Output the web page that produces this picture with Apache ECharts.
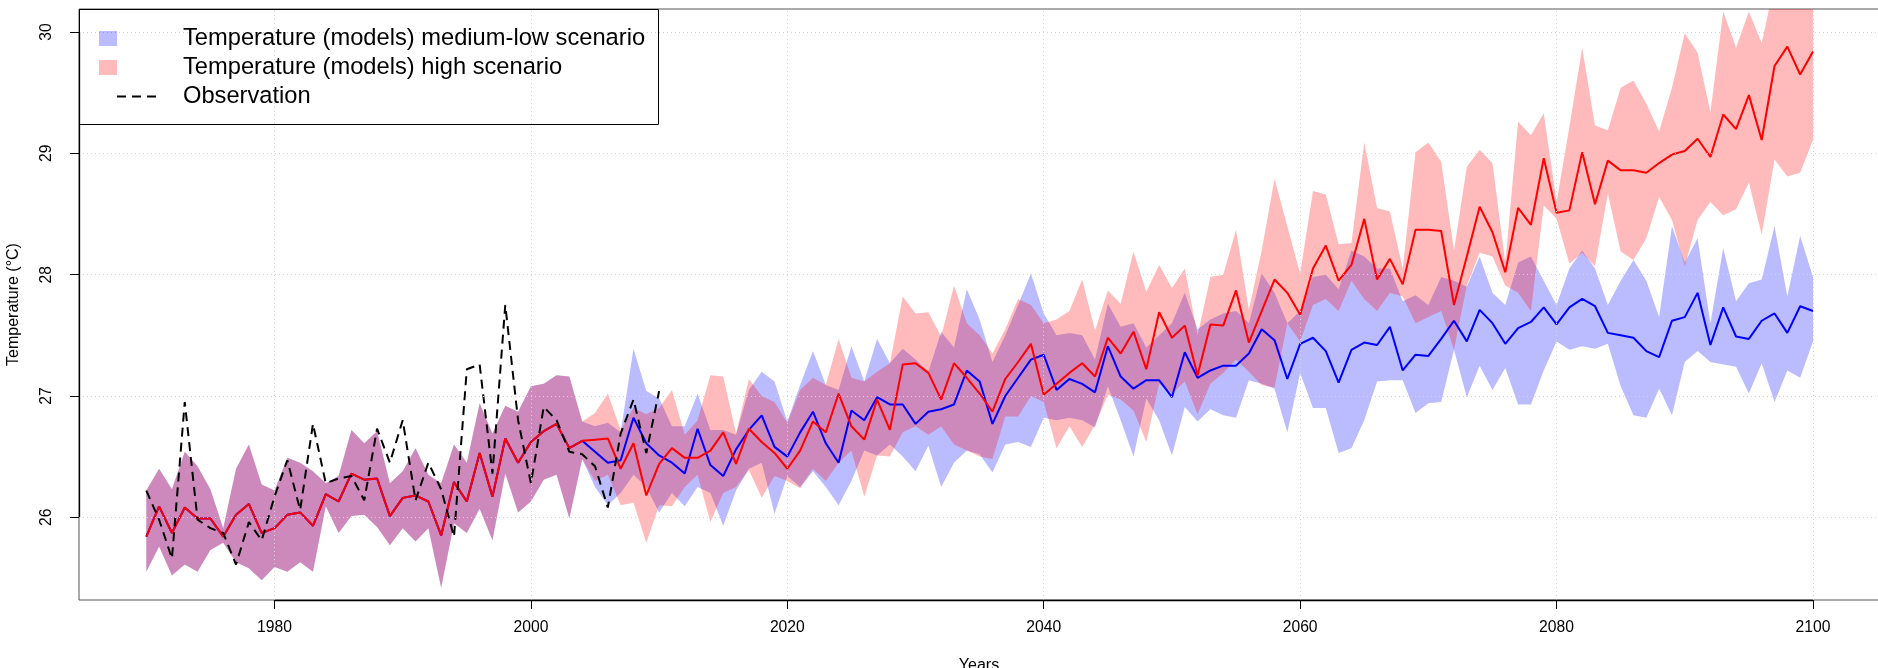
<!DOCTYPE html>
<html><head><meta charset="utf-8">
<script src="https://cdn.jsdelivr.net/npm/echarts@6/dist/echarts.min.js"></script>
<style>html,body{margin:0;padding:0;background:#fff}#c{width:1878px;height:668px}</style>
</head><body><div id="c"></div>
<script>
// ---------- data ----------
const firstYear = 1970;
const lastYear = 2100;
const xTicks = [1980, 2000, 2020, 2040, 2060, 2080, 2100];
const yTicks = [26, 27, 28, 29, 30];

// historical model ensemble (1970-2004), common to both scenarios
const histMean = [25.84,26.09,25.87,26.08,25.99,25.99,25.84,26.02,26.11,25.87,
  25.91,26.02,26.04,25.93,26.19,26.13,26.36,26.31,26.32,26.01,
  26.16,26.18,26.13,25.85,26.29,26.13,26.53,26.17,26.65,26.45,
  26.62,26.71,26.77,26.57,26.63];
const histLower = [25.55,25.76,25.52,25.61,25.55,25.73,25.79,25.63,25.58,25.48,
  25.59,25.55,25.63,25.55,26.09,25.87,26.01,26.02,25.92,25.77,
  25.91,25.80,25.91,25.42,25.95,25.87,26.07,25.81,26.36,26.04,
  26.13,26.31,26.35,25.99,26.48];
const histUpper = [26.22,26.40,26.23,26.54,26.42,26.23,25.91,26.40,26.60,26.27,
  26.22,26.49,26.45,26.38,26.28,26.34,26.72,26.61,26.71,26.28,
  26.38,26.57,26.35,26.28,26.60,26.45,26.94,26.69,26.92,26.87,
  27.08,27.10,27.17,27.16,26.79];

// medium-low scenario (2005-2100)
const lowMean = [26.54,26.45,26.47,26.82,26.61,26.51,26.45,26.36,26.73,26.43,
  26.34,26.56,26.72,26.84,26.58,26.50,26.70,26.87,26.61,26.45,
  26.88,26.80,26.99,26.93,26.93,26.77,26.87,26.89,26.93,27.21,
  27.12,26.77,27.00,27.15,27.30,27.34,27.05,27.14,27.10,27.03,
  27.41,27.16,27.06,27.13,27.13,26.99,27.36,27.15,27.21,27.25,
  27.25,27.35,27.55,27.46,27.14,27.43,27.48,27.37,27.11,27.38,
  27.44,27.42,27.57,27.21,27.34,27.33,27.47,27.62,27.45,27.71,
  27.60,27.43,27.56,27.61,27.73,27.59,27.73,27.80,27.74,27.52,
  27.50,27.48,27.37,27.32,27.62,27.65,27.85,27.42,27.73,27.49,
  27.47,27.62,27.68,27.52,27.74,27.70];
const lowLower = [26.25,26.10,26.20,26.35,26.25,26.04,26.20,26.09,26.25,26.20,
  25.93,26.22,26.40,26.45,26.03,26.34,26.25,26.38,26.25,26.10,
  26.30,26.55,26.51,26.60,26.50,26.38,26.59,26.25,26.45,26.55,
  26.52,26.37,26.60,26.62,26.58,26.82,26.80,26.82,26.80,26.74,
  27.08,26.80,26.50,26.98,26.80,26.51,26.91,26.79,26.89,26.84,
  26.82,27.13,27.10,27.06,26.70,27.19,26.90,26.90,26.53,26.57,
  26.80,27.12,27.13,27.13,26.86,26.94,26.95,27.38,26.99,27.25,
  27.05,27.23,26.93,26.93,27.21,27.45,27.38,27.41,27.39,27.43,
  27.08,26.84,26.82,27.06,26.84,27.28,27.37,27.28,27.26,27.24,
  27.02,27.27,26.95,27.21,27.15,27.45];
const lowUpper = [26.75,26.78,26.70,27.39,27.04,26.98,26.75,26.75,27.02,26.72,
  26.72,26.68,27.05,27.20,27.12,26.79,27.09,27.37,27.09,27.05,
  27.41,27.12,27.47,27.27,27.39,27.30,27.20,27.53,27.40,27.88,
  27.63,27.28,27.50,27.75,28.01,27.68,27.50,27.52,27.50,27.30,
  27.76,27.57,27.60,27.40,27.50,27.60,27.85,27.55,27.63,27.68,
  27.70,27.60,28.01,27.85,27.60,27.70,27.98,28.00,27.88,28.20,
  28.15,28.05,28.05,27.78,27.83,27.75,27.98,27.95,27.90,28.15,
  27.85,27.75,28.10,28.15,27.95,27.75,28.05,28.20,28.05,27.75,
  27.95,28.12,27.95,27.65,28.40,28.10,28.30,27.60,28.22,27.78,
  27.93,27.96,28.40,27.82,28.32,27.98];

// high scenario (2005-2100)
const highMean = [26.64,26.65,26.40,26.61,26.18,26.44,26.57,26.49,26.49,26.55,
  26.70,26.44,26.73,26.62,26.53,26.40,26.55,26.79,26.70,27.02,
  26.75,26.64,26.97,26.72,27.26,27.27,27.19,26.97,27.27,27.15,
  27.02,26.87,27.14,27.28,27.43,27.01,27.10,27.19,27.27,27.16,
  27.48,27.35,27.53,27.22,27.69,27.48,27.58,27.17,27.59,27.58,
  27.87,27.44,27.70,27.96,27.85,27.67,28.05,28.24,27.95,28.08,
  28.46,27.96,28.13,27.92,28.37,28.37,28.36,27.75,28.15,28.56,
  28.35,28.02,28.55,28.41,28.96,28.51,28.53,29.01,28.58,28.94,
  28.86,28.86,28.84,28.92,28.99,29.02,29.12,28.97,29.32,29.20,
  29.48,29.11,29.72,29.88,29.65,29.84];
const highLower = [26.30,26.35,26.10,26.12,25.79,26.10,26.09,26.25,26.35,25.96,
  26.20,26.25,26.39,26.16,26.34,26.30,26.24,26.40,26.30,26.45,
  26.55,26.17,26.51,26.50,26.70,26.75,26.68,26.75,26.60,26.55,
  26.50,26.48,26.83,26.83,27.00,26.95,26.57,26.75,26.58,26.76,
  27.01,26.97,26.88,26.62,27.10,27.02,27.12,26.85,27.10,27.19,
  27.30,27.20,27.09,27.07,27.60,27.45,27.75,27.80,27.70,27.95,
  27.80,27.70,27.85,27.82,27.60,27.65,27.70,27.38,27.91,28.18,
  28.15,27.91,27.85,27.70,28.57,28.46,28.09,28.18,28.07,28.67,
  28.19,28.12,28.30,28.64,28.45,28.07,28.45,28.60,28.49,28.54,
  28.76,28.33,28.95,28.81,28.84,29.11];
const highUpper = [26.86,27.02,26.72,26.90,26.85,26.90,27.05,26.68,26.80,27.17,
  27.16,26.69,27.14,27.00,26.95,26.78,27.05,27.15,27.09,27.47,
  27.15,27.12,27.20,27.27,27.82,27.68,27.69,27.49,27.91,27.60,
  27.50,27.35,27.55,27.80,27.75,27.60,27.63,27.70,27.96,27.54,
  27.87,27.76,28.19,27.86,28.08,27.89,28.05,27.50,27.98,28.00,
  28.37,27.71,28.20,28.79,28.40,28.01,28.69,28.66,28.25,28.26,
  29.09,28.55,28.52,28.05,29.01,29.09,28.93,28.20,28.89,29.03,
  28.92,28.10,29.26,29.15,29.33,28.60,29.22,29.87,29.23,29.19,
  29.54,29.60,29.41,29.18,29.54,29.99,29.83,29.34,30.17,29.87,
  30.17,29.91,30.40,30.50,30.40,30.50];

// observations (1970-2010)
const observation = [26.22,25.98,25.66,26.95,25.98,25.91,25.87,25.61,25.96,25.81,
  26.17,26.47,26.06,26.77,26.28,26.32,26.34,26.14,26.73,26.45,
  26.80,26.14,26.45,26.23,25.84,27.22,27.26,26.36,27.75,26.80,
  26.28,26.91,26.80,26.54,26.52,26.42,26.08,26.69,26.97,26.53,27.04];

// ---------- build ----------
const years = [];
for (let y = firstYear; y <= lastYear; y++) years.push(y);
const pair = (vals) => vals.map((v, i) => [years[i], v]);
const lowMeanAll = histMean.concat(lowMean);
const highMeanAll = histMean.concat(highMean);

const xMin = 1964.751, xMax = 2105.15;
const yMin = 25.318, yMax = 30.190;
const FONT = '"Liberation Sans", Arial, Helvetica, sans-serif';

function band(lower, upper, color) {
  const data = years.map((y, i) => [y, lower[i], upper[i]]);
  return {
    type: 'custom', silent: true, data,
    encode: { x: 0, y: [1, 2] },
    renderItem(params, api) {
      if (params.dataIndex !== 0) return null;
      const pts = [];
      for (let i = 0; i < data.length; i++) pts.push(api.coord([data[i][0], data[i][2]]));
      for (let i = data.length - 1; i >= 0; i--) pts.push(api.coord([data[i][0], data[i][1]]));
      const cs = params.coordSys;
      return {
        type: 'polygon', shape: { points: pts }, style: { fill: color, stroke: null },
        clipPath: { type: 'rect', shape: { x: cs.x, y: cs.y, width: cs.width, height: cs.height } }
      };
    }
  };
}

const gridStyle = { color: '#d3d3d3', type: [1, 3], width: 1 };
const markData = [];
xTicks.forEach(v => markData.push({ xAxis: v }));
yTicks.forEach(v => markData.push({ yAxis: v }));
markData.push([{ coord: [xTicks[0], yMin], lineStyle: { color: '#000', type: 'solid', width: 1.3 } },
               { coord: [xTicks[xTicks.length - 1], yMin] }]);
markData.push([{ coord: [xMin, yTicks[0]], lineStyle: { color: '#000', type: 'solid', width: 1.3 } },
               { coord: [xMin, yTicks[yTicks.length - 1]] }]);

const chart = echarts.init(document.getElementById('c'), null, { renderer: 'canvas' });
chart.setOption({
  animation: false,
  backgroundColor: '#fff',
  textStyle: { fontFamily: FONT },
  grid: { left: 79, top: 9, right: -1, bottom: 68, show: true, borderColor: '#555', borderWidth: 1,
          backgroundColor: 'transparent', containLabel: false, outerBoundsMode: 'none' },
  xAxis: {
    type: 'value', min: xMin, max: xMax,
    name: 'Years', nameLocation: 'middle', nameGap: 58,
    nameTextStyle: { fontSize: 16, color: '#000', fontFamily: FONT },
    axisLine: { show: false },
    axisTick: { show: true, customValues: xTicks, length: 9, lineStyle: { color: '#000', width: 1 } },
    axisLabel: { customValues: xTicks, margin: 20, fontSize: 15.7, color: '#000', fontFamily: FONT,
                 formatter: v => String(v) },
    splitLine: { show: false }
  },
  yAxis: {
    type: 'value', min: yMin, max: yMax,
    name: 'Temperature (°C)', nameLocation: 'middle', nameGap: 57,
    nameTextStyle: { fontSize: 16, color: '#000', fontFamily: FONT },
    axisLine: { show: false },
    axisTick: { show: true, customValues: yTicks, length: 9, lineStyle: { color: '#000', width: 1 } },
    axisLabel: { customValues: yTicks, rotate: 90, margin: 24, fontSize: 15.7, color: '#000', fontFamily: FONT,
                 formatter: v => String(v) },
    splitLine: { show: false }
  },
  graphic: [
    { type: 'rect', shape: { x: 79.5, y: 9.5, width: 579, height: 115 }, style: { fill: null, stroke: '#000', lineWidth: 1 }, z: 100 },
    { type: 'rect', shape: { x: 99, y: 31, width: 18, height: 15 }, style: { fill: 'rgba(0,0,255,0.267)' }, z: 100 },
    { type: 'rect', shape: { x: 99, y: 60, width: 18, height: 15 }, style: { fill: 'rgba(255,0,0,0.267)' }, z: 100 },
    { type: 'line', shape: { x1: 117, y1: 96.5, x2: 158, y2: 96.5 }, style: { stroke: '#000', lineWidth: 2, lineDash: [9, 6] }, z: 100 },
    { type: 'text', style: { text: 'Temperature (models) medium-low scenario', x: 183, y: 38, font: '23.7px ' + FONT, fill: '#000', verticalAlign: 'middle' }, z: 100 },
    { type: 'text', style: { text: 'Temperature (models) high scenario', x: 183, y: 67, font: '23.7px ' + FONT, fill: '#000', verticalAlign: 'middle' }, z: 100 },
    { type: 'text', style: { text: 'Observation', x: 183, y: 96, font: '23.7px ' + FONT, fill: '#000', verticalAlign: 'middle' }, z: 100 }
  ],
  series: [
    {
      type: 'line', data: [[years[0], null]], silent: true, symbol: 'none',
      markLine: { silent: true, symbol: ['none', 'none'], label: { show: false }, lineStyle: gridStyle, data: markData, animation: false }
    },
    band(histLower.concat(lowLower), histUpper.concat(lowUpper), 'rgba(0,0,255,0.267)'),
    { type: 'line', name: 'medium-low', data: pair(lowMeanAll), showSymbol: false, symbol: 'none', lineStyle: { color: '#0000ff', width: 2 }, silent: true },
    band(histLower.concat(highLower), histUpper.concat(highUpper), 'rgba(255,0,0,0.267)'),
    { type: 'line', name: 'high', data: pair(highMeanAll), showSymbol: false, symbol: 'none', lineStyle: { color: '#ff0000', width: 2 }, silent: true },
    { type: 'line', name: 'Observation', data: pair(observation), showSymbol: false, symbol: 'none', lineStyle: { color: '#000', width: 2, type: [9, 6] }, silent: true }
  ]
});
</script>
</body></html>
